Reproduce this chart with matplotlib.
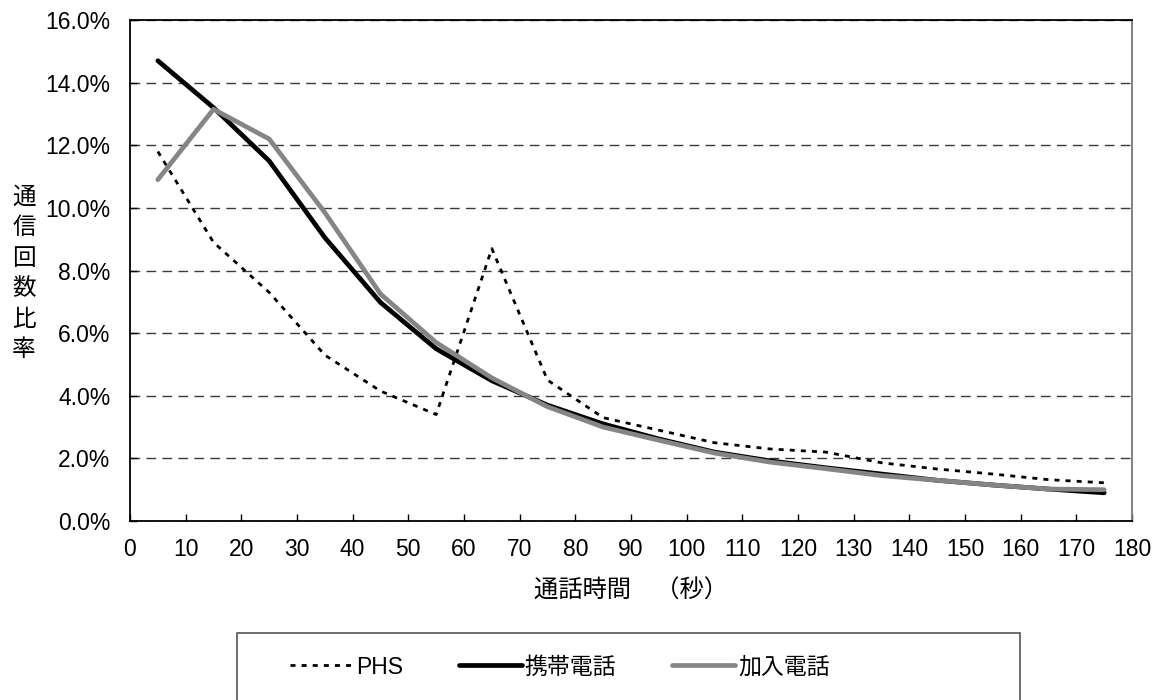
import matplotlib
matplotlib.use("Agg")
import matplotlib.pyplot as plt
from matplotlib.ticker import FuncFormatter, MultipleLocator
from matplotlib.patches import Rectangle

plt.rcParams['font.family'] = ['Liberation Sans', 'Noto Sans CJK JP', 'DejaVu Sans']

seconds = [5, 15, 25, 35, 45, 55, 65, 75, 85, 95, 105, 115, 125, 135, 145, 155, 165, 175]
phs = [11.8, 8.9, 7.3, 5.3, 4.15, 3.4, 8.7, 4.5, 3.3, 2.9, 2.5, 2.3, 2.2, 1.86, 1.66, 1.5, 1.32, 1.22]
keitai = [14.7, 13.2, 11.5, 9.05, 6.98, 5.5, 4.48, 3.7, 3.1, 2.62, 2.2, 1.92, 1.7, 1.5, 1.3, 1.15, 1.02, 0.9]
kanyu = [10.9, 13.15, 12.2, 9.85, 7.25, 5.7, 4.57, 3.65, 3.0, 2.58, 2.17, 1.88, 1.67, 1.45, 1.3, 1.15, 1.02, 1.0]
series_names = ['PHS', '携帯電話', '加入電話']
x_label = '通話時間　（秒）'
y_label = '通信回数比率'

W, H = 1161, 700
fig = plt.figure(figsize=(W / 100, H / 100), dpi=100)
ax = fig.add_axes([130 / W, 1 - 521 / H, (1132 - 130) / W, (521 - 20) / H])

l1, = ax.plot(seconds, phs, color='black', lw=2.0, linestyle=(0, (1.8, 2.2)), label=series_names[0])
l2, = ax.plot(seconds, keitai, color='black', lw=3.4, label=series_names[1], solid_capstyle='round')
l3, = ax.plot(seconds, kanyu, color='#858585', lw=3.4, label=series_names[2], solid_capstyle='round')

ax.set_xlim(0, 180)
ax.set_ylim(0, 16)
ax.xaxis.set_major_locator(MultipleLocator(10))
ax.yaxis.set_major_locator(MultipleLocator(2))
ax.yaxis.set_major_formatter(FuncFormatter(lambda v, p: f"{v:.1f}%"))
ax.tick_params(direction='in', length=5, width=1, labelsize=16.5)
ax.tick_params(axis='x', pad=12)
ax.tick_params(axis='y', pad=14)
for s in ax.spines.values():
    s.set_linewidth(1.3)
    s.set_color('black')
ax.spines['right'].set_color('#777777')
ax.yaxis.grid(True, linestyle=(0, (7, 4.5)), color='#3a3a3a', lw=1)
ax.set_axisbelow(True)

fig.text(631 / W, 1 - 591 / H, x_label, fontsize=17.5, ha='center', va='center')
fig.text(24 / W, 1 - 274 / H, '\n'.join(y_label), fontsize=17,
         ha='center', va='center', linespacing=1.5)

# legend frame (extends past the bottom edge as in the reference)
fig.patches.append(Rectangle((237 / W, -0.02), (1020 - 237) / W, (1 - 633 / H) + 0.02,
                             transform=fig.transFigure, fill=False, edgecolor='#555555', lw=1.2))
leg = fig.legend(handles=[l1, l2, l3], loc='center left', bbox_to_anchor=(290 / W, 1 - 667 / H),
                 ncol=3, fontsize=16.5, frameon=False, handlelength=2.75, handletextpad=0.12,
                 columnspacing=2.45, borderpad=0, borderaxespad=0)

fig.savefig('out.png', dpi=100)
